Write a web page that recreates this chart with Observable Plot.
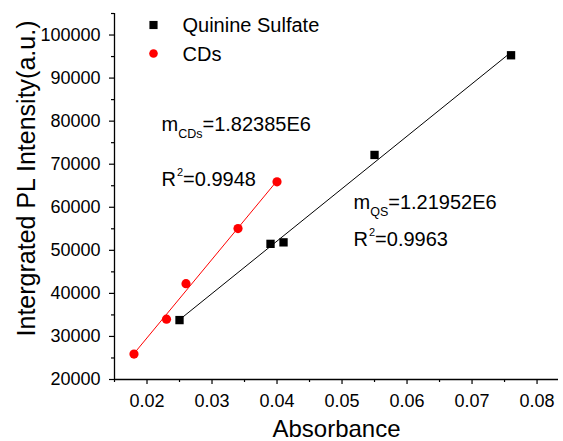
<!DOCTYPE html>
<html>
<head>
<meta charset="utf-8">
<script src="https://cdn.jsdelivr.net/npm/d3@7"></script>
<script src="https://cdn.jsdelivr.net/npm/@observablehq/plot@0.6"></script>
<style>
  html, body { margin: 0; padding: 0; background: white; }
</style>
</head>
<body>
<div id="chart"></div>
<script>
// Quinine Sulfate (reference)
const qsAbs = [0.025, 0.039, 0.041, 0.055, 0.076];
const qsPL  = [33800, 51500, 51850, 72150, 95300];
// Carbon dots
const cdAbs = [0.018, 0.023, 0.026, 0.034, 0.040];
const cdPL  = [25900, 34000, 42250, 55050, 65900];

const seriesNames = ["Quinine Sulfate", "CDs"];
const seriesColors = ["black", "#ff0000"];
const seriesSymbols = ["square", "circle"];

const xTicks = [0.02, 0.03, 0.04, 0.05, 0.06, 0.07, 0.08];
const xMinor = [0.015, 0.025, 0.035, 0.045, 0.055, 0.065, 0.075];
const yTicks = [20000, 30000, 40000, 50000, 60000, 70000, 80000, 90000, 100000];
const yMinor = [25000, 35000, 45000, 55000, 65000, 75000, 85000, 95000, 105000];

const xLabel = "Absorbance";
const yLabel = "Intergrated PL Intensity(a.u.)";

// annotation texts: [main, sub/sup, rest]
const annotations = [
  {id: "a1", base: "m", script: "CDs", kind: "sub", rest: "=1.82385E6", dx: 47, dy: 117},
  {id: "a2", base: "R", script: "2", kind: "sup", rest: "=0.9948", dx: 47, dy: 172},
  {id: "a3", base: "m", script: "QS", kind: "sub", rest: "=1.21952E6", dx: 239, dy: 195.5},
  {id: "a4", base: "R", script: "2", kind: "sup", rest: "=0.9963", dx: 239, dy: 232}
];

const qs = qsAbs.map((x, i) => ({x, y: qsPL[i]}));
const cd = cdAbs.map((x, i) => ({x, y: cdPL[i]}));

const FONT = "'Liberation Sans', Arial, Helvetica, sans-serif";

const plot = Plot.plot({
  width: 563,
  height: 441,
  marginLeft: 114,
  marginRight: 5,
  marginTop: 13,
  marginBottom: 62,
  style: {fontFamily: FONT, fontSize: "18px", color: "black", background: "white", overflow: "visible"},
  x: {domain: [0.015, 0.0833]},
  y: {domain: [20000, 105000]},
  marks: [
    Plot.axisX({ticks: xTicks, tickSize: 5, tickPadding: 10, tickFormat: d3.format(".2f"), label: null, fontSize: 18, stroke: "black", strokeWidth: 1.2}),
    Plot.axisX({ticks: xMinor, tickSize: 3, tickFormat: () => "", label: null, stroke: "black", strokeWidth: 1.2}),
    Plot.axisY({ticks: yTicks, tickSize: 5, tickPadding: 9, tickFormat: d3.format("d"), label: null, fontSize: 18, stroke: "black", strokeWidth: 1.2}),
    Plot.axisY({ticks: yMinor, tickSize: 3, tickFormat: () => "", label: null, stroke: "black", strokeWidth: 1.2}),
    Plot.ruleX([0.015], {stroke: "black", strokeWidth: 1.3}),
    Plot.ruleY([20000], {stroke: "black", strokeWidth: 1.3}),
    Plot.linearRegressionY(qs, {x: "x", y: "y", stroke: seriesColors[0], strokeWidth: 1, ci: 0}),
    Plot.linearRegressionY(cd, {x: "x", y: "y", stroke: seriesColors[1], strokeWidth: 1, ci: 0}),
    Plot.dot(qs, {x: "x", y: "y", symbol: seriesSymbols[0], fill: seriesColors[0], r: 4.7}),
    Plot.dot(cd, {x: "x", y: "y", symbol: seriesSymbols[1], fill: seriesColors[1], r: 4.6}),
    // legend
    Plot.dot([0], {frameAnchor: "top-left", dx: 39, dy: 11.5, symbol: seriesSymbols[0], fill: seriesColors[0], r: 4.6}),
    Plot.dot([0], {frameAnchor: "top-left", dx: 39, dy: 40, symbol: seriesSymbols[1], fill: seriesColors[1], r: 4.3}),
    Plot.text([seriesNames[0]], {frameAnchor: "top-left", dx: 68, dy: 12.5, textAnchor: "start", lineAnchor: "middle", fontSize: 20, fill: "black"}),
    Plot.text([seriesNames[1]], {frameAnchor: "top-left", dx: 68, dy: 41, textAnchor: "start", lineAnchor: "middle", fontSize: 20, fill: "black"}),
    // annotations (placeholder text; enriched with sub/superscripts below)
    ...annotations.map(a => Plot.text([a.id], {frameAnchor: "top-left", dx: a.dx, dy: a.dy, textAnchor: "start", lineAnchor: "bottom", fontSize: 20, fill: "black"})),
    // axis titles
    Plot.text([xLabel], {frameAnchor: "bottom", dy: 57, textAnchor: "middle", lineAnchor: "bottom", fontSize: 24, fill: "black"}),
    Plot.text([yLabel], {frameAnchor: "left", dx: -88, dy: -18, rotate: -90, textAnchor: "middle", lineAnchor: "middle", fontSize: 25, fill: "black"})
  ]
});

document.getElementById("chart").appendChild(plot);

// Replace annotation placeholders with rich text (sub/superscripts)
const svg = d3.select(plot);
annotations.forEach(a => {
  svg.selectAll("text").filter(function() { return this.textContent === a.id; }).each(function() {
    const t = d3.select(this);
    t.text(null);
    t.append("tspan").text(a.base);
    if (a.kind === "sub") {
      t.append("tspan").attr("font-size", 12.5).attr("dy", 7).text(a.script);
      t.append("tspan").attr("dy", -7).text(a.rest);
    } else {
      t.append("tspan").attr("font-size", 11).attr("dy", -10).attr("dx", 1).text(a.script);
      t.append("tspan").attr("dy", 10).text(a.rest);
    }
  });
});
</script>
</body>
</html>
